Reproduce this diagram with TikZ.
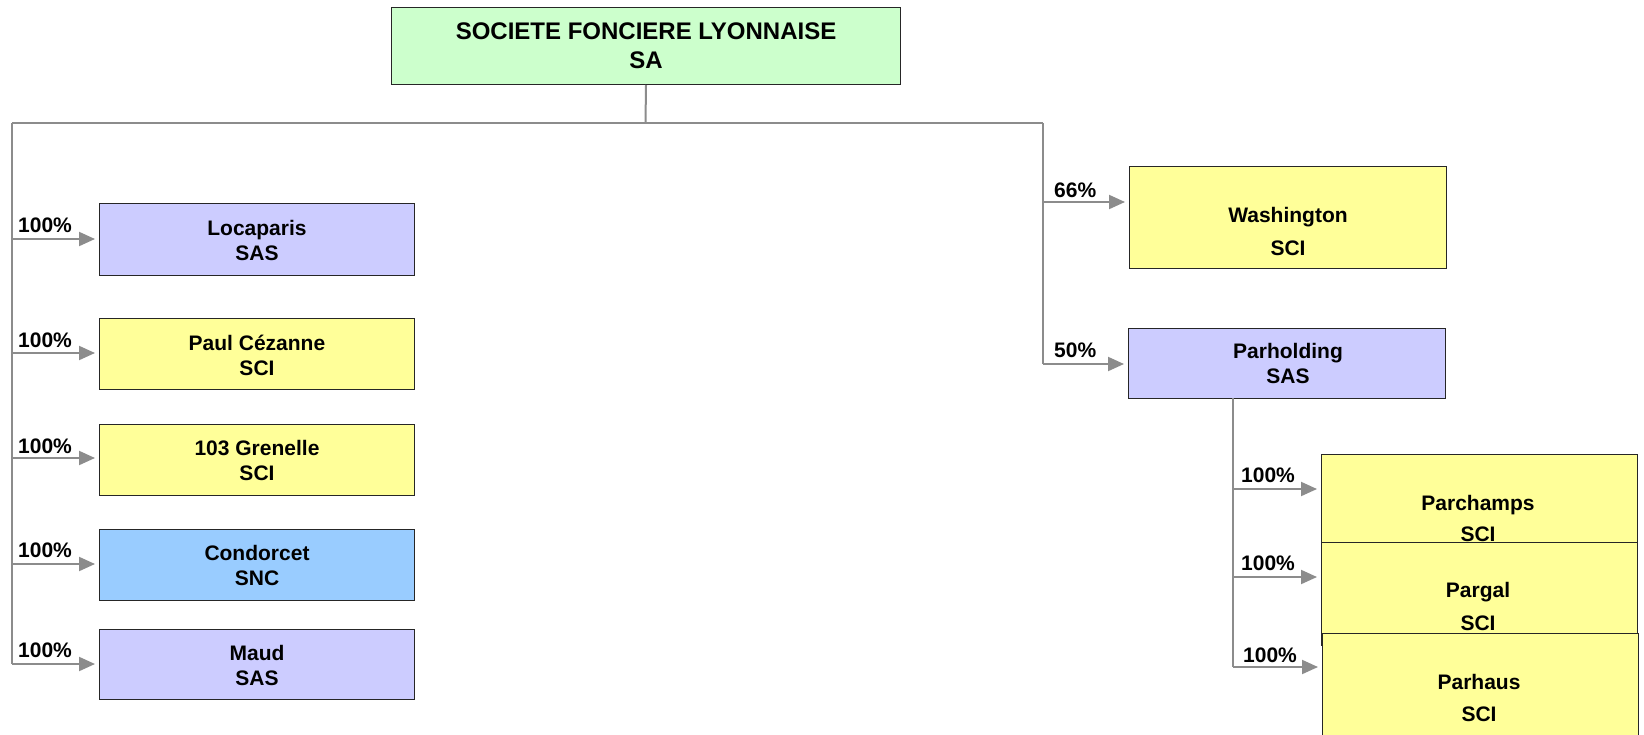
\documentclass[tikz,border=0pt]{standalone}
\usepackage{fontspec}
\setmainfont{Liberation Sans}
\usetikzlibrary{arrows.meta}
\definecolor{cgreen}{HTML}{CCFFCC}
\definecolor{cpurple}{HTML}{CCCCFF}
\definecolor{cyellow}{HTML}{FFFF99}
\definecolor{cblue}{HTML}{99CCFF}
\definecolor{cline}{HTML}{8C8C8C}
\begin{document}
\begin{tikzpicture}[x=1pt,y=-1pt,
  box/.style={draw=black!85, line width=1pt, inner sep=0pt, anchor=north west},
  txt/.style={font=\bfseries\fontsize{21}{25}\selectfont, align=center, inner sep=0pt},
  conn/.style={draw=cline, line width=2pt},
  arr/.style={conn, -{Triangle[length=16pt,width=14pt]}, shorten >=4pt},
  pct/.style={font=\bfseries\fontsize{21}{25}\selectfont, anchor=west, inner sep=0pt}]
\useasboundingbox (0,0) rectangle (1644,734);
\clip (0,0) rectangle (1644,734);
\fill[white] (0,0) rectangle (1644,734);

% top box
\node[box, fill=cgreen, minimum width=509pt, minimum height=77pt] (top) at (391,7) {};
\node[txt, font=\bfseries\fontsize{24}{29}\selectfont] (topT) at (top.center) {SOCIETE FONCIERE LYONNAISE\\SA};

% left boxes
\node[box, fill=cpurple, minimum width=315pt, minimum height=72pt] (loc) at (99,203) {};
\node[txt] (locT) at (257,240) {Locaparis\\SAS};
\node[box, fill=cyellow, minimum width=315pt, minimum height=71pt] (paul) at (99,318) {};
\node[txt] (paulT) at (257,355) {Paul Cézanne\\SCI};
\node[box, fill=cyellow, minimum width=315pt, minimum height=71pt] (gren) at (99,424) {};
\node[txt] (grenT) at (257,460) {103 Grenelle\\SCI};
\node[box, fill=cblue, minimum width=315pt, minimum height=71pt] (cond) at (99,529) {};
\node[txt] (condT) at (257,565) {Condorcet\\SNC};
\node[box, fill=cpurple, minimum width=315pt, minimum height=70pt] (maud) at (99,629) {};
\node[txt] (maudT) at (257,665) {Maud\\SAS};

% right boxes
\node[box, fill=cyellow, minimum width=317pt, minimum height=102pt] (wash) at (1129,166) {};
\node[txt, font=\bfseries\fontsize{21}{33}\selectfont] (washT) at (1288,231) {Washington\\SCI};
\node[box, fill=cpurple, minimum width=317pt, minimum height=70pt] (parh) at (1128,328) {};
\node[txt] (parhT) at (1288,363) {Parholding\\SAS};

\node[box, fill=cyellow, minimum width=316pt, minimum height=120pt] (pchamps) at (1321,454) {};
\node[txt, font=\bfseries\fontsize{21}{31}\selectfont] (pchampsT) at (1478,518) {Parchamps\\SCI};
\node[box, fill=cyellow, minimum width=316pt, minimum height=103pt] (pgal) at (1321,542) {};
\node[txt, font=\bfseries\fontsize{21}{33}\selectfont] (pgalT) at (1478,606) {Pargal\\SCI};
\node[box, fill=cyellow, minimum width=316pt, minimum height=120pt] (phaus) at (1322,633) {};
\node[txt, font=\bfseries\fontsize{21}{32}\selectfont] (phausT) at (1479,698) {Parhaus\\SCI};

% main connectors
\coordinate (j0) at (645.5,123);
\coordinate (jl) at (12,123);
\coordinate (jr) at (1043,123);
\draw[conn] (top.south) -- (j0);
\draw[conn] (jl) -- (jr);

% left trunk
\coordinate (a1) at (12,239);
\coordinate (a2) at (12,353);
\coordinate (a3) at (12,458);
\coordinate (a4) at (12,564);
\coordinate (a5) at (12,664);
\draw[conn] (jl) -- (a5);
\draw[arr] (a1) -- (a1 -| loc.west);
\draw[arr] (a2) -- (a2 -| paul.west);
\draw[arr] (a3) -- (a3 -| gren.west);
\draw[arr] (a4) -- (a4 -| cond.west);
\draw[arr] (a5) -- (a5 -| maud.west);
\node[pct] (p1) at (18,225) {100\%};
\node[pct] (p2) at (18,340) {100\%};
\node[pct] (p3) at (18,446) {100\%};
\node[pct] (p4) at (18,550) {100\%};
\node[pct] (p5) at (18,650) {100\%};

% right trunk
\coordinate (r1) at (1043,202);
\coordinate (r2) at (1043,364);
\draw[conn] (jr) -- (r2);
\draw[arr] (r1) -- (r1 -| wash.west);
\draw[arr] (r2) -- (r2 -| parh.west);
\node[pct] (q1) at (1054,190) {66\%};
\node[pct] (q2) at (1054,350) {50\%};

% sub trunk
\coordinate (s0) at (1233,398);
\coordinate (s1) at (1233,489);
\coordinate (s2) at (1233,577);
\coordinate (s3) at (1233,667);
\draw[conn] (s0) -- (s3);
\draw[arr] (s1) -- (s1 -| pchamps.west);
\draw[arr] (s2) -- (s2 -| pgal.west);
\draw[arr] (s3) -- (s3 -| phaus.west);
\node[pct] (u1) at (1241,475) {100\%};
\node[pct] (u2) at (1241,563) {100\%};
\node[pct] (u3) at (1243,655) {100\%};
\end{tikzpicture}
\end{document}
